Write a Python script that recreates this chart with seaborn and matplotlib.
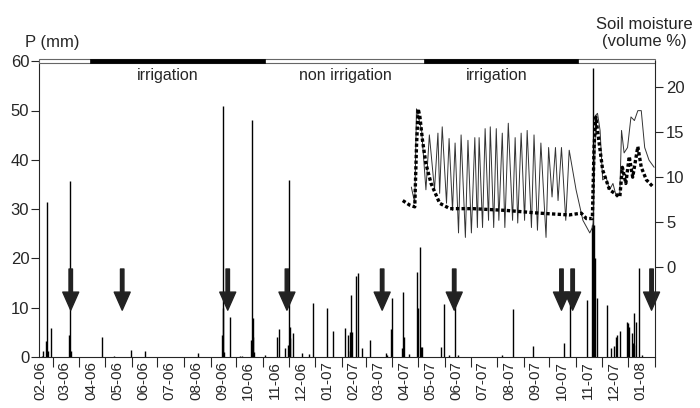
import pandas as pd
import matplotlib
matplotlib.use("Agg")
import matplotlib.pyplot as plt
import matplotlib.dates as mdates
from matplotlib.ticker import NullFormatter
from matplotlib.patches import Rectangle
import seaborn as sns

# daily rainfall P (mm)
rain_date = ["2006-02-16", "2006-02-18", "2006-02-21", "2006-02-22", "2006-02-24", "2006-02-27",
             "2006-03-20", "2006-03-21", "2006-03-22", "2006-04-28", "2006-05-12", "2006-05-31",
             "2006-06-17", "2006-08-17", "2006-09-14", "2006-09-15", "2006-09-16", "2006-09-17",
             "2006-09-24", "2006-10-05", "2006-10-08", "2006-10-18", "2006-10-19", "2006-10-20",
             "2006-10-21", "2006-10-22", "2006-11-04", "2006-11-17", "2006-11-20", "2006-11-27",
             "2006-11-30", "2006-12-01", "2006-12-02", "2006-12-03", "2006-12-06", "2006-12-16",
             "2006-12-25", "2006-12-29", "2007-01-15", "2007-01-22", "2007-02-05", "2007-02-08",
             "2007-02-10", "2007-02-11", "2007-02-12", "2007-02-13", "2007-02-18", "2007-02-20",
             "2007-02-24", "2007-03-06", "2007-03-24", "2007-03-26", "2007-03-30", "2007-03-31",
             "2007-04-12", "2007-04-13", "2007-04-14", "2007-04-20", "2007-04-30", "2007-05-01",
             "2007-05-03", "2007-05-04", "2007-05-05", "2007-05-27", "2007-05-31", "2007-06-06",
             "2007-06-13", "2007-06-16", "2007-08-07", "2007-08-20", "2007-09-12", "2007-10-18",
             "2007-10-25", "2007-11-14", "2007-11-20", "2007-11-21", "2007-11-22", "2007-11-23",
             "2007-11-25", "2007-12-07", "2007-12-12", "2007-12-15", "2007-12-18", "2007-12-19",
             "2007-12-22", "2007-12-30", "2007-12-31", "2008-01-02", "2008-01-05", "2008-01-06",
             "2008-01-07", "2008-01-08", "2008-01-10", "2008-01-13", "2008-01-17"]
rain_mm = [0.3, 1.2, 3.2, 31.4, 1.3, 5.8,
           4.5, 35.7, 1.2, 4.0, 0.3, 1.5,
           1.3, 0.8, 4.5, 51.0, 10.0, 1.0,
           8.1, 0.3, 0.3, 3.4, 48.0, 7.9,
           4.0, 1.0, 0.5, 4.1, 5.7, 1.8,
           2.5, 35.9, 6.0, 3.9, 4.8, 0.9,
           0.6, 11.0, 10.0, 5.3, 5.9, 4.5,
           1.3, 5.1, 12.6, 5.0, 16.5, 17.0,
           1.8, 3.4, 0.8, 0.5, 5.7, 12.0,
           1.8, 13.2, 4.0, 0.6, 17.3, 9.9,
           22.3, 2.0, 2.0, 2.0, 10.8, 0.5,
           12.0, 0.4, 0.5, 9.7, 2.2, 2.8,
           12.0, 11.6, 26.8, 58.6, 26.8, 20.0,
           12.0, 10.6, 1.8, 2.3, 4.0, 4.5,
           5.2, 7.1, 6.8, 6.1, 4.9, 2.8,
           2.5, 8.9, 7.2, 18.0, 0.5]

# soil moisture (volume %), days counted from 2006-03-01
t0 = pd.Timestamp("2006-03-01")
thin_day = [418, 422, 424, 430, 435, 439, 445, 449, 451, 454, 459, 462, 466, 469, 473, 476,
            481, 484, 488, 492, 495, 497, 501, 504, 508, 510, 514, 517, 520, 524, 527, 531,
            536, 539, 542, 546, 550, 553, 558, 561, 565, 569, 575, 578, 582, 586, 589, 593,
            598, 602, 610, 618, 626, 629, 630, 633, 635, 638, 641, 645, 649, 653, 657, 661,
            663, 666, 670, 674, 678, 682, 686, 690, 695, 701]
thin_vol = [8.9, 7.1, 17.6, 15.2, 8.6, 14.7, 8.6, 14.9, 8.2, 15.6, 7.1, 14.3, 6.3, 13.8, 3.8, 14.7,
            3.3, 14.1, 3.8, 14.4, 4.4, 14.4, 4.4, 15.4, 5.2, 15.6, 4.4, 15.4, 5.2, 14.9, 4.4, 16.0,
            5.2, 14.4, 4.9, 14.9, 5.2, 15.2, 4.4, 14.7, 4.1, 13.8, 3.3, 13.3, 7.8, 13.3, 7.4, 13.3,
            5.2, 13.0, 8.6, 5.2, 3.8, 4.4, 4.9, 16.9, 17.1, 15.2, 9.7, 10.0, 8.6, 9.3, 7.8, 8.2,
            15.2, 12.7, 13.3, 16.7, 16.3, 17.4, 17.4, 13.3, 11.9, 11.1]
dot_day = [408, 416, 422, 424, 426, 428, 431, 435, 441, 451, 463, 490, 529, 567, 602, 616,
           622, 629, 631, 633, 635, 641, 649, 661, 664, 668, 672, 676, 682, 686, 692, 700]
dot_vol = [7.4, 6.9, 6.7, 13.4, 17.6, 16.7, 14.1, 11.5, 9.3, 7.1, 6.5, 6.5, 6.3, 6.0, 5.8, 6.0,
           5.4, 5.4, 13.4, 16.7, 15.2, 10.8, 8.6, 7.8, 11.1, 9.3, 12.3, 10.0, 13.4, 11.1, 9.7, 8.9]

# downward arrows
arrow_date = ["2006-03-22", "2006-05-21", "2006-09-21", "2006-11-29", "2007-03-20",
              "2007-06-12", "2007-10-15", "2007-10-28", "2008-01-28"]

# irrigation periods
irrig_start = ["2006-04-14", "2007-05-08"]
irrig_end = ["2006-11-04", "2007-11-03"]
period_label = ["irrigation", "non irrigation", "irrigation"]
period_mid = ["2006-07-13", "2007-02-05", "2007-07-31"]

sns.set_style("ticks")
plt.rcParams["font.family"] = ["Liberation Sans", "DejaVu Sans"]

fig = plt.figure(figsize=(7, 4.08), dpi=100)
ax = fig.add_axes([0.0557, 0.125, 0.88, 0.725])

# rainfall bars
ax.vlines(pd.to_datetime(rain_date), 0, rain_mm, color="black", lw=1.0)

x_lo = pd.Timestamp("2006-02-13")
x_hi = pd.Timestamp("2008-02-01")

# soil moisture on second axis
ax2 = ax.twinx()
sns.lineplot(x=t0 + pd.to_timedelta(thin_day, unit="D"), y=thin_vol, ax=ax2,
             color="#333333", lw=0.7, estimator=None)
sns.lineplot(x=t0 + pd.to_timedelta(dot_day, unit="D"), y=dot_vol, ax=ax2,
             color="black", lw=2.4, linestyle=(0, (1, 0.7)), estimator=None)
ax2.set_xlabel("")
ax2.set_ylabel("")
ax2.set_ylim(-10, 22.9)
ax2.set_yticks([0, 5, 10, 15, 20])
for s in ["top", "left", "bottom"]:
    ax2.spines[s].set_visible(False)
ax2.spines["right"].set_linewidth(0.8)
ax2.tick_params(axis="y", length=6, width=0.8, labelsize=12, pad=2)

# arrows
for d in pd.to_datetime(arrow_date):
    ax.annotate("", xy=(d, 9.5), xytext=(d, 17.85),
                arrowprops=dict(arrowstyle="simple,head_length=1.3,head_width=1.15,tail_width=0.25",
                                color="#222222", shrinkA=0, shrinkB=0, mutation_scale=10))

# irrigation band on top
xn_lo, xn_hi = mdates.date2num(x_lo), mdates.date2num(x_hi)
ax.add_patch(Rectangle((xn_lo, 59.55), xn_hi - xn_lo, 0.9, fc="white", ec="#666666",
                       lw=0.8, clip_on=False, zorder=5))
for a, b in zip(irrig_start, irrig_end):
    na, nb = mdates.date2num(pd.Timestamp(a)), mdates.date2num(pd.Timestamp(b))
    ax.add_patch(Rectangle((na, 59.55), nb - na, 0.9, fc="black", ec="black",
                           lw=0.5, clip_on=False, zorder=6))
for lab, m in zip(period_label, period_mid):
    ax.text(pd.Timestamp(m), 57.2, lab, ha="center", va="center", fontsize=11.5)

ax.set_ylim(0, 60)
ax.set_yticks(range(0, 61, 10))
ax.set_xlim(x_lo, x_hi)
ax.xaxis.set_major_locator(mdates.MonthLocator())
ax.xaxis.set_major_formatter(NullFormatter())
ax.xaxis.set_minor_locator(mdates.MonthLocator(bymonthday=15))
ax.xaxis.set_minor_formatter(mdates.DateFormatter("%m-%y"))
ax.tick_params(axis="x", which="major", length=7, width=0.8, direction="out")
ax.tick_params(axis="x", which="minor", length=0, labelsize=11, rotation=90, pad=3)
ax.tick_params(axis="y", length=6, width=0.8, labelsize=12, pad=1)
ax.spines["top"].set_visible(False)
ax.spines["right"].set_visible(False)
for s in ["left", "bottom"]:
    ax.spines[s].set_linewidth(0.8)

fig.text(25 / 700, 1 - 42 / 408, "P (mm)", ha="left", va="center", fontsize=12)
fig.text(644 / 700, 1 - 33 / 408, "Soil moisture\n(volume %)", ha="center", va="center",
         fontsize=12, linespacing=1.1)

fig.savefig("out.png", dpi=100)
